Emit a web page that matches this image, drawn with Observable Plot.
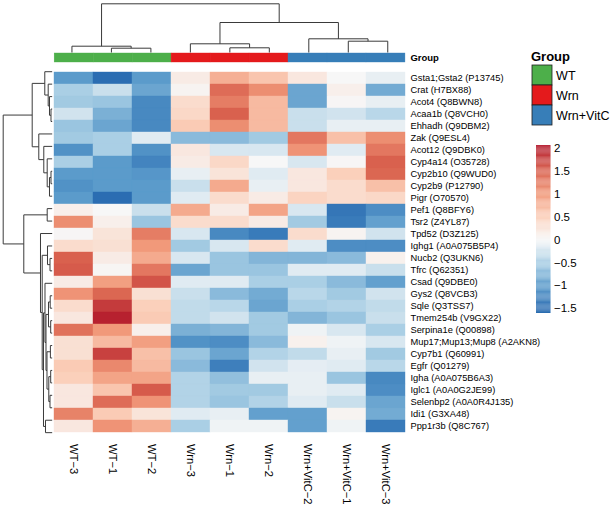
<!DOCTYPE html>
<html><head><meta charset="utf-8">
<script src="https://cdn.jsdelivr.net/npm/d3@7"></script>
<script src="https://cdn.jsdelivr.net/npm/@observablehq/plot@0.6"></script>
<style>
html,body{margin:0;padding:0;background:#fff;}
#chart{position:relative;width:615px;height:508px;overflow:hidden;font-family:"Liberation Sans",Arial,Helvetica,sans-serif;color:#000;}
#chart svg{position:absolute;overflow:visible;}
.lbl{position:absolute;white-space:nowrap;}
</style></head><body><div id="chart"></div>
<script>
// ---------------- data ----------------
const samples = ["WT−3","WT−1","WT−2","Wrn−3","Wrn−1","Wrn−2","Wrn+VitC−2","Wrn+VitC−1","Wrn+VitC−3"];
const sampleGroups = ["WT","WT","WT","Wrn","Wrn","Wrn","Wrn+VitC","Wrn+VitC","Wrn+VitC"];
const groups = ["WT","Wrn","Wrn+VitC"];
const groupColors = ["#4daf4a","#e41a1c","#377eb8"];
const proteins = [
  "Gsta1;Gsta2 (P13745)","Crat (H7BX88)","Acot4 (Q8BWN8)","Acaa1b (Q8VCH0)","Ehhadh (Q9DBM2)",
  "Zak (Q9ESL4)","Acot12 (Q9DBK0)","Cyp4a14 (O35728)","Cyp2b10 (Q9WUD0)","Cyp2b9 (P12790)",
  "Pigr (O70570)","Pef1 (Q8BFY6)","Tsr2 (Z4YL87)","Tpd52 (D3Z125)","Ighg1 (A0A075B5P4)",
  "Nucb2 (Q3UKN6)","Tfrc (Q62351)","Csad (Q9DBE0)","Gys2 (Q8VCB3)","Sqle (Q3TSS7)",
  "Tmem254b (V9GX22)","Serpina1e (Q00898)","Mup17;Mup13;Mup8 (A2AKN8)","Cyp7b1 (Q60991)","Egfr (Q01279)",
  "Igha (A0A075B6A3)","Iglc1 (A0A0G2JE99)","Selenbp2 (A0A0R4J135)","Idi1 (G3XA48)","Ppp1r3b (Q8C767)"
];
// z-scores, one array per sample (same order as proteins)
const WT3   = [-1.0,-0.5,-0.55,-0.25,-0.6,-0.55,-1.1,-0.5,-1.0,-1.1,-1.0,0.1,1.1,0.02,0.35,1.5,1.55,0.15,1.05,0.35,0.2,1.35,0.3,0.3,0.55,0.5,0.2,0.2,1.2,0.2];
const WT1   = [-1.5,-0.3,-0.6,-0.8,-0.9,-0.5,-0.5,-1.0,-1.0,-1.0,-1.5,0.0,0.1,0.25,0.3,0.15,0.03,0.95,1.45,1.8,2.0,1.0,0.7,1.75,1.15,0.9,0.6,1.4,0.55,1.05];
const WT2   = [-1.0,-0.9,-1.2,-1.2,-1.2,-0.15,-1.1,-1.25,-1.05,-1.0,-1.0,-0.3,-0.6,1.25,1.0,0.85,1.3,1.6,0.3,0.5,0.55,0.1,0.95,0.65,0.7,0.9,1.55,1.05,0.25,0.8];
const Wrn3  = [0.15,0.05,0.35,0.4,0.55,-0.7,0.2,0.15,-0.1,-0.3,-0.15,0.85,0.35,-0.2,-0.55,-0.2,-0.9,-0.15,-0.3,-0.35,-0.35,-0.8,-1.1,-0.6,-0.7,-0.45,-0.45,-0.45,-0.15,-0.5];
const Wrn1  = [0.8,1.4,1.25,1.5,1.1,-0.7,-0.2,0.4,0.25,0.85,0.35,0.15,0.35,-1.2,-0.2,-0.6,-0.6,-0.15,-0.7,-0.4,-0.25,-0.75,-1.15,-0.9,-1.3,-0.65,-0.55,-0.6,-0.1,-0.05];
const Wrn2  = [0.6,1.1,0.7,0.7,0.7,-0.55,-0.2,0.0,-0.15,-0.1,0.15,0.9,0.15,-1.35,0.35,-0.75,-0.6,-0.5,-0.85,-0.9,-0.55,-0.55,-0.7,-0.45,-0.25,-0.1,-0.55,-0.45,-0.95,-0.05];
const VitC2 = [0.2,-0.9,-0.9,-0.3,-0.3,1.3,1.05,-0.2,0.2,0.2,0.45,-0.2,-0.55,0.35,-0.15,-0.75,-0.15,-0.5,-0.4,-0.5,-0.75,-0.05,0.08,-0.35,-0.12,-0.1,-0.1,-0.15,-0.95,-0.95];
const VitC1 = [0.0,0.1,0.02,-0.25,-0.1,0.65,-0.15,0.02,0.5,0.35,0.35,-1.4,-1.35,0.05,-1.15,-0.7,-0.15,-0.7,-0.55,-0.45,-0.6,-0.2,-0.05,-0.1,-0.15,-0.6,-0.15,-0.3,0.05,-0.05];
const VitC3 = [-0.1,-0.85,-0.1,-0.4,-0.1,1.1,1.3,1.5,1.45,0.65,0.4,-1.15,-0.95,-0.25,-1.15,0.08,-0.3,-0.95,-0.25,-0.35,-0.3,-0.5,-0.2,-0.55,-0.4,-1.2,-1.15,-0.9,-0.85,-1.35];
const series = [WT3, WT1, WT2, Wrn3, Wrn1, Wrn2, VitC2, VitC1, VitC3];

// dendrograms: [mergeHeight, left, right]; leaves are column / row indices
const colTree = [48.7, [6.3, 0, [4.3, 1, 2]], [30, [8.7, 3, [4.7, 4, 5]], [13.7, 6, [11.3, 7, 8]]]];
const rowTree = [49,
  [20,
    [7.4, 0, [4, 1, [2.7, 2, [1.2, 3, 4]]]],
    [13.4, 5, [8.4, 6, [5, 7, [2.7, [1.2, 8, 9], 10]]]]],
  [28.4,
    [5, 11, 12],
    [11.7, 13,
      [10,
        [4.7, 14, [2.2, 15, 16]],
        [8.7,
          [7.2, 17, [6.2, [3.7, [2, 18, 19], [1.5, 20, 21]], [5.2, [1.8, 22, 23], [3.4, [1.5, 24, 25], [2.2, 26, 27]]]]],
          [6.7, 28, 29]]]]]];

const colorDomain = [-1.61, 2.07];
const colorTicks = [2, 1.5, 1, 0.5, 0, -0.5, -1, -1.5];
const colorStops = [-1.61, -1.5, -1, -0.5, 0, 0.5, 1, 1.5, 2.07];
const colorRange = ["#2166ac", "#2b6db2", "#5b9bcb", "#aacfe5", "#f7f7f7", "#fbd0bb", "#f1997a", "#d9614e", "#b2182b"];

// ---------------- helpers ----------------
const FONT = "Liberation Sans, Arial, Helvetica, sans-serif";
const container = document.getElementById("chart");
function place(el, left, top) {
  el.style.position = "absolute";
  el.style.left = left + "px";
  el.style.top = top + "px";
  container.appendChild(el);
}
function dendroSegments(tree) {
  const segs = [];
  (function walk(node) {
    if (typeof node === "number") return {pos: node + 0.5, h: 0};
    const h = node[0], a = node[1], b = node[2];
    const A = walk(a), B = walk(b);
    segs.push({p1: A.pos, h1: A.h, p2: A.pos, h2: h});
    segs.push({p1: B.pos, h1: B.h, p2: B.pos, h2: h});
    segs.push({p1: A.pos, h1: h, p2: B.pos, h2: h});
    return {pos: (A.pos + B.pos) / 2, h};
  })(tree);
  return segs;
}
const colorScale = {type: "linear", domain: colorStops, range: colorRange, interpolate: "rgb"};
const baseStyle = {fontFamily: FONT, background: "transparent", overflow: "visible", color: "#000"};
const fmt = d => String(d).replace("-", "\u2212");

const X0 = 51.7, X1 = 407, Y0 = 65, Y1 = 438.5, W = 615, H = 508;

// ---------------- main heatmap ----------------
const cells = proteins.flatMap((p, i) => samples.map((s, j) => ({protein: p, sample: s, value: series[j][i]})));
const main = Plot.plot({
  width: W, height: H,
  marginLeft: X0, marginRight: W - X1, marginTop: Y0, marginBottom: H - Y1,
  style: {...baseStyle, fontSize: "10px"},
  x: {domain: samples, padding: 0},
  y: {domain: proteins, padding: 0},
  color: colorScale,
  marks: [
    Plot.cell(cells, {x: "sample", y: "protein", fill: "value", stroke: "value", strokeWidth: 0.4}),
    Plot.axisX({anchor: "bottom", tickSize: 0, tickPadding: 5, tickRotate: 90, fontSize: 11.2, label: null}),
    Plot.axisY({anchor: "right", tickSize: 0, tickPadding: 3, fontSize: 9.3, label: null})
  ]
});
place(main, 0, 0);

// ---------------- group annotation bar ----------------
const groupBar = Plot.plot({
  width: W, height: 9.6,
  marginLeft: X0, marginRight: W - X1, marginTop: 0, marginBottom: 0,
  style: {...baseStyle, fontSize: "9.5px"},
  x: {domain: samples, padding: 0, axis: null},
  y: {domain: ["Group"], padding: 0},
  color: {domain: groups, range: groupColors},
  marks: [
    Plot.cell(samples, {x: d => d, y: () => "Group", fill: (d, i) => sampleGroups[i], stroke: (d, i) => sampleGroups[i], strokeWidth: 0.4}),
    Plot.axisY({anchor: "right", tickSize: 0, tickPadding: 3, fontSize: 9.5, fontWeight: "bold", label: null})
  ]
});
place(groupBar, 0, 52.7);

// ---------------- column dendrogram ----------------
const colDend = Plot.plot({
  width: W, height: 52,
  marginLeft: X0, marginRight: W - X1, marginTop: 3.3, marginBottom: 0,
  style: baseStyle,
  x: {domain: [0, samples.length], axis: null},
  y: {domain: [0, 48.7], axis: null},
  marks: [
    Plot.link(dendroSegments(colTree), {x1: "p1", y1: "h1", x2: "p2", y2: "h2", stroke: "#3a3a3a", strokeWidth: 1})
  ]
});
place(colDend, 0, 0);

// ---------------- row dendrogram ----------------
const rowDend = Plot.plot({
  width: X0, height: H,
  marginLeft: 2.7, marginRight: 0, marginTop: Y0, marginBottom: H - Y1,
  style: baseStyle,
  x: {domain: [49, 0], axis: null},
  y: {domain: [0, proteins.length], range: [Y0, Y1], axis: null},
  marks: [
    Plot.link(dendroSegments(rowTree), {x1: "h1", y1: "p1", x2: "h2", y2: "p2", stroke: "#3a3a3a", strokeWidth: 1})
  ]
});
place(rowDend, 0, 0);

// ---------------- group legend ----------------
const title = document.createElement("div");
title.className = "lbl";
title.textContent = "Group";
title.style.cssText += "font-weight:bold;font-size:13px;line-height:13px;";
place(title, 531, 50);

const groupLegend = Plot.plot({
  width: 84, height: 60,
  marginLeft: 0, marginRight: 84 - 20.6, marginTop: 0, marginBottom: 0,
  style: {...baseStyle, fontSize: "12.5px"},
  x: {domain: ["g"], padding: 0, axis: null},
  y: {domain: groups, padding: 0},
  color: {domain: groups, range: groupColors},
  marks: [
    Plot.cell(groups, {x: () => "g", y: d => d, fill: d => d, stroke: "#1f1f1f", strokeWidth: 0.8}),
    Plot.axisY({anchor: "right", tickSize: 0, tickPadding: 3, fontSize: 12.5, label: null})
  ]
});
place(groupLegend, 531.7, 65);

// ---------------- colour bar ----------------
const steps = d3.range(colorDomain[0], colorDomain[1], 0.02);
const colorBar = Plot.plot({
  width: 70, height: 180,
  marginLeft: 0, marginRight: 70 - 14.5, marginTop: 5, marginBottom: 7,
  style: {...baseStyle, fontSize: "11.5px"},
  x: {domain: [0, 1], axis: null},
  y: {domain: colorDomain},
  color: colorScale,
  marks: [
    Plot.rect(steps, {x1: 0, x2: 1, y1: d => d, y2: d => Math.min(d + 0.021, colorDomain[1]), fill: d => d + 0.01}),
    Plot.axisY({anchor: "right", ticks: colorTicks, tickFormat: fmt, tickSize: 0, tickPadding: 3, fontSize: 11.5, label: null})
  ]
});
place(colorBar, 535.5, 140);
</script></body></html>
